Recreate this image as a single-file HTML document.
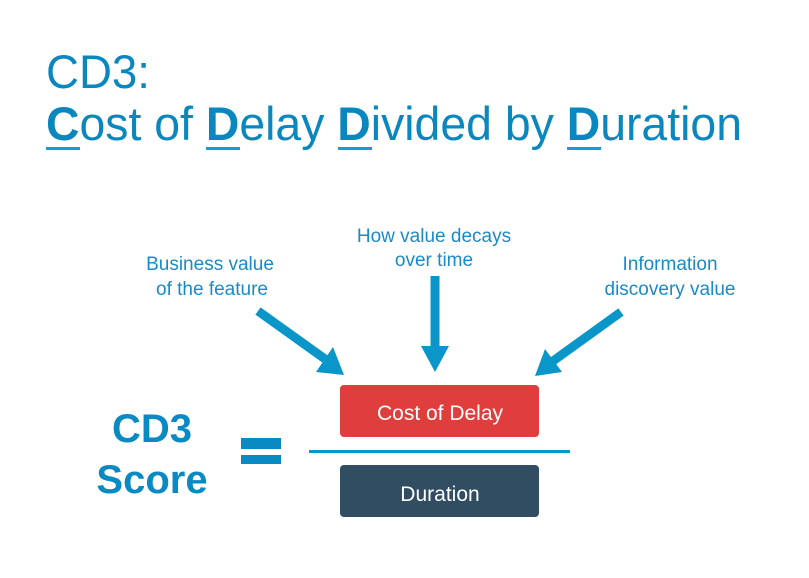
<!DOCTYPE html>
<html><head><meta charset="utf-8"><style>
html,body{margin:0;padding:0;background:#fff;}
svg{display:block;}
</style></head><body>
<svg width="809" height="578" viewBox="0 0 809 578" xmlns="http://www.w3.org/2000/svg" font-family="Liberation Sans, Arial, sans-serif">
<g fill="#0b87c0">
<text x="46" y="88" font-size="47" textLength="104" lengthAdjust="spacingAndGlyphs">CD3:</text>
<text x="46" y="140" font-size="47" textLength="696" lengthAdjust="spacingAndGlyphs"><tspan font-weight="bold">C</tspan>ost of <tspan font-weight="bold">D</tspan>elay <tspan font-weight="bold">D</tspan>ivided by <tspan font-weight="bold">D</tspan>uration</text>
</g>
<g fill="#1a9ad6">
<rect x="46" y="147" width="34" height="3"/>
<rect x="206" y="147" width="34" height="3"/>
<rect x="338" y="147" width="34" height="3"/>
<rect x="567" y="147" width="34" height="3"/>
</g>
<g fill="#1a8ac6" font-size="19" text-anchor="middle">
<text x="210" y="270">Business value</text>
<text x="212" y="295">of the feature</text>
<text x="434" y="242">How value decays</text>
<text x="434" y="266">over time</text>
<text x="670" y="270">Information</text>
<text x="670" y="295">discovery value</text>
</g>
<g stroke="#0a96c8" stroke-width="9" fill="none">
<line x1="258" y1="311" x2="325" y2="359"/>
<line x1="435" y1="276" x2="435" y2="350"/>
<line x1="621" y1="312" x2="553" y2="361"/>
</g>
<g fill="#0a96c8">
<polygon points="344,375 316,372 333,347"/>
<polygon points="435,372 421,346 449,346"/>
<polygon points="535,376 545,349 562,372"/>
</g>
<rect x="340" y="385" width="199" height="52" rx="4" fill="#e03e3c"/>
<rect x="340" y="465" width="199" height="52" rx="4" fill="#314d61"/>
<rect x="309" y="450" width="261" height="3" fill="#0a96c8"/>
<g fill="#fff" font-size="21" text-anchor="middle">
<text x="440" y="420">Cost of Delay</text>
<text x="440" y="501">Duration</text>
</g>
<g fill="#0a8ac3" font-size="40" font-weight="bold" text-anchor="middle">
<text x="152" y="442">CD3</text>
<text x="152" y="493">Score</text>
</g>
<rect x="241" y="438" width="40" height="11" fill="#0a8ac3"/>
<rect x="241" y="455" width="40" height="9" fill="#0a8ac3"/>
</svg>
</body></html>
